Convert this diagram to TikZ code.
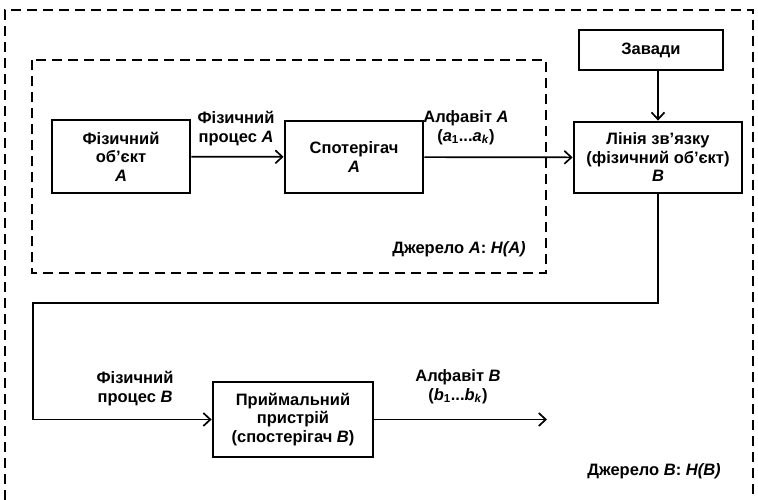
\documentclass[tikz,border=0pt]{standalone}
\usepackage{fontspec}
\setmainfont{Liberation Sans}
\usetikzlibrary{arrows.meta}

\begin{document}
\begin{tikzpicture}[
    x=1pt,y=-1pt,>={Straight Barb[length=7pt,width=13pt]},
    font=\bfseries\fontsize{16.5}{18.5}\selectfont,
    block/.style={draw,line width=2.8pt,align=center,inner sep=2pt},
    link/.style={->,line width=1.7pt},
    frame/.style={black,line width=1.7pt,dash pattern=on 10pt off 6pt},
    lbl/.style={align=center,inner sep=0pt}
  ]
    \useasboundingbox (0,0) rectangle (758,500);

    % Source B encloses everything, its lower edge is cut off.
    \draw[frame] (5,500)--(5,10)--(753,10)--(753,500);
    % Source A: the object and its observer.
    \draw[frame] (32,60) rectangle (546,273);

    % Blocks of the chain.
    \node[block,minimum width=138pt,minimum height=73pt] (objA) at (121,156.5)
      {Фізичний\\об'єкт\\\textit{A}};
    \node[block,minimum width=138pt,minimum height=72pt] (obsA) at (354,157)
      {Спотерігач\\\textit{A}};
    \node[block,minimum width=144pt,minimum height=40pt] (noise) at (651,50)
      {Завади};
    \node[block,minimum width=168pt,minimum height=71pt] (line) at (658,157.5)
      {Лінія зв'язку\\(фізичний об'єкт)\\\textit{B}};
    \node[block,minimum width=160pt,minimum height=75pt] (recv) at (293,419.5)
      {Приймальний\\пристрій\\(спостерігач \textit{B})};

    % Bends of the channel output and the free end of the last arrow.
    \coordinate (turnL) at (33,303);
    \coordinate (outB) at (547,419.5);

    \draw[link] (objA) -- (obsA);
    \draw[link] (obsA) -- (line);
    \draw[link] (line.north |- noise.south) -- (line.north);
    \draw[link] (line.south) |- (turnL) |- (recv.west);
    \draw[link] (recv.east) -- (outB);

    % Labels on the arrows.
    \node[lbl,anchor=south] (procA) at (236,146) {Фізичний\\процес \textit{A}};
    \node[lbl,anchor=south] (alphA) at (466,145)
      {Алфавіт \textit{A}\\(\textit{a}\textsubscript{1}...\textit{a}\textsubscript{\textit{k}})};
    \node[lbl,anchor=south] (procB) at (135,406) {Фізичний\\процес \textit{B}};
    \node[lbl,anchor=south] (alphB) at (458,404)
      {Алфавіт \textit{B}\\(\textit{b}\textsubscript{1}...\textit{b}\textsubscript{\textit{k}})};

    % Names of the two sources.
    \node[lbl,anchor=base] (srcA) at (459,253) {Джерело \textit{A}: \textit{H(A)}};
    \node[lbl,anchor=base] (srcB) at (654,475) {Джерело \textit{B}: \textit{H(B)}};
  \end{tikzpicture}
\end{document}
